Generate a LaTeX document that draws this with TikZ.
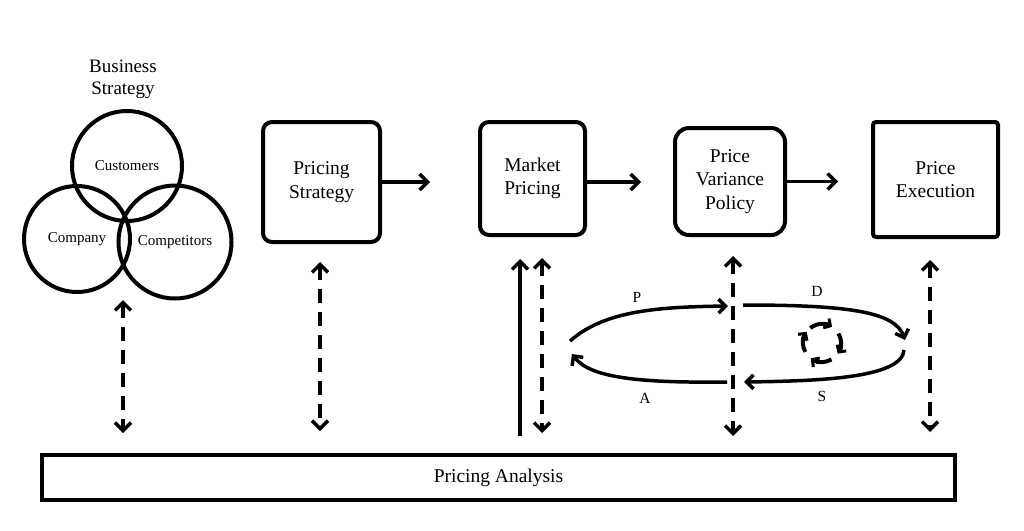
\documentclass[tikz,border=0pt]{standalone}
\usepackage{fontspec}
\setmainfont{Liberation Serif}
\usetikzlibrary{arrows.meta}
\begin{document}
\begin{tikzpicture}[x=1pt,y=-1pt,
  stage/.style={draw, line width=4pt, rounded corners=9pt, align=center,
    font=\fontsize{19.5}{23.5}\selectfont, inner sep=0pt},
  ring/.style={draw, circle, line width=4pt, inner sep=0pt,
    font=\fontsize{15}{17}\selectfont},
  barb/.tip={Straight Barb[length=8pt,width=16pt,line width=3.5pt]},
  flow/.style={line width=3.5pt, -barb},
  link/.style={line width=3.5pt, dash pattern=on 14pt off 9pt, barb-barb},
  loop/.style={line width=3.5pt, -{Straight Barb[length=7pt,width=14pt,line width=3.5pt]}},
  cyc/.style={line width=4pt, -{Straight Barb[length=5pt,width=11pt,line width=3pt]}},
  letter/.style={font=\fontsize{15.5}{17}\selectfont}
]
\useasboundingbox (0,0) rectangle (1024,530);

% Business strategy
\node[align=center, font=\fontsize{19}{22}\selectfont] (bst) at (123,79) {Business\\Strategy};
\node[ring, minimum size=110pt] (cust) at (127,166) {Customers};
\node[ring, minimum size=106pt] (comp) at (77,239) {Company};
\node[ring, minimum size=113pt] (compt) at (175,242) {Competitors};

% stages
\node[stage, minimum width=117pt, minimum height=120pt] (ps) at (321.5,182) {Pricing\\Strategy};
\node[stage, minimum width=105pt, minimum height=113pt] (mp) at (532.5,178.5) {Market\\Pricing};
\node[stage, rounded corners=14pt, minimum width=110pt, minimum height=107pt] (pv) at (730,181.5) {Price\\Variance\\Policy};
\node[stage, rounded corners=3pt, minimum width=125pt, minimum height=115pt] (pe) at (935.5,179.5) {Price\\Execution};

\draw[flow, shorten >=48pt] (ps.east) -- (ps.east -| mp.west);
\draw[flow, shorten >=32pt] (mp.east |- ps.east) -- (ps.east -| pv.west);
\draw[flow, shorten >=33pt] (pv.east) -- (pv.east -| pe.west);

% analysis bar
\node[draw, line width=4pt, minimum width=913pt, minimum height=45pt, inner sep=0pt,
  font=\fontsize{19.5}{22}\selectfont] (bar) at (498.5,477.5) {Pricing Analysis};

% dashed links
\coordinate (l1a) at (123,300); \coordinate (l1b) at (123,433);
\coordinate (l2a) at (320,262); \coordinate (l2b) at (320,431);
\coordinate (l3a) at (542,258); \coordinate (l3b) at (542,433);
\coordinate (l4a) at (733,256); \coordinate (l4b) at (733,436);
\coordinate (l5a) at (930,260); \coordinate (l5b) at (930,432);
\draw[link] (l1a) -- (l1b);
\draw[link] (l2a) -- (l2b);
\draw[link] (l3a) -- (l3b);
\draw[link] (l4a) -- (l4b);
\draw[link] (l5a) -- (l5b);

% solid feedback
\coordinate (fb0) at (520,436); \coordinate (fb1) at (520,259);
\draw[flow] (fb0) -- (fb1);

% PDSA loop
\coordinate (q1) at (570,341);
\coordinate (q2) at (728,306);
\coordinate (q3) at (743,305);
\coordinate (q4) at (905,340);
\coordinate (q5) at (904,350);
\coordinate (q6) at (744,382);
\coordinate (q7) at (727,382);
\coordinate (q8) at (572,354);
\draw[loop] (q1) .. controls (605,310) and (660,307) .. (q2);
\draw[loop] (q3) .. controls (850,305) and (895,312) .. (q4);
\draw[loop] (q5) .. controls (902,378) and (820,381) .. (q6);
\draw[loop] (q7) .. controls (640,383) and (590,378) .. (q8);
\node[letter] (lp) at (637,297) {P};
\node[letter] (ld) at (817,291) {D};
\node[letter] (ls) at (822,396) {S};
\node[letter] (la) at (645,398) {A};

% small cycle
\coordinate (cc) at (822,343);
\draw[cyc] (cc) ++(-128:19) arc[start angle=-128, end angle=-58, radius=19];
\draw[cyc] (cc) ++(-30:19) arc[start angle=-30, end angle=34, radius=19];
\draw[cyc] (cc) ++(60:19) arc[start angle=60, end angle=126, radius=19];
\draw[cyc] (cc) ++(152:19) arc[start angle=152, end angle=216, radius=19];
\end{tikzpicture}
\end{document}
